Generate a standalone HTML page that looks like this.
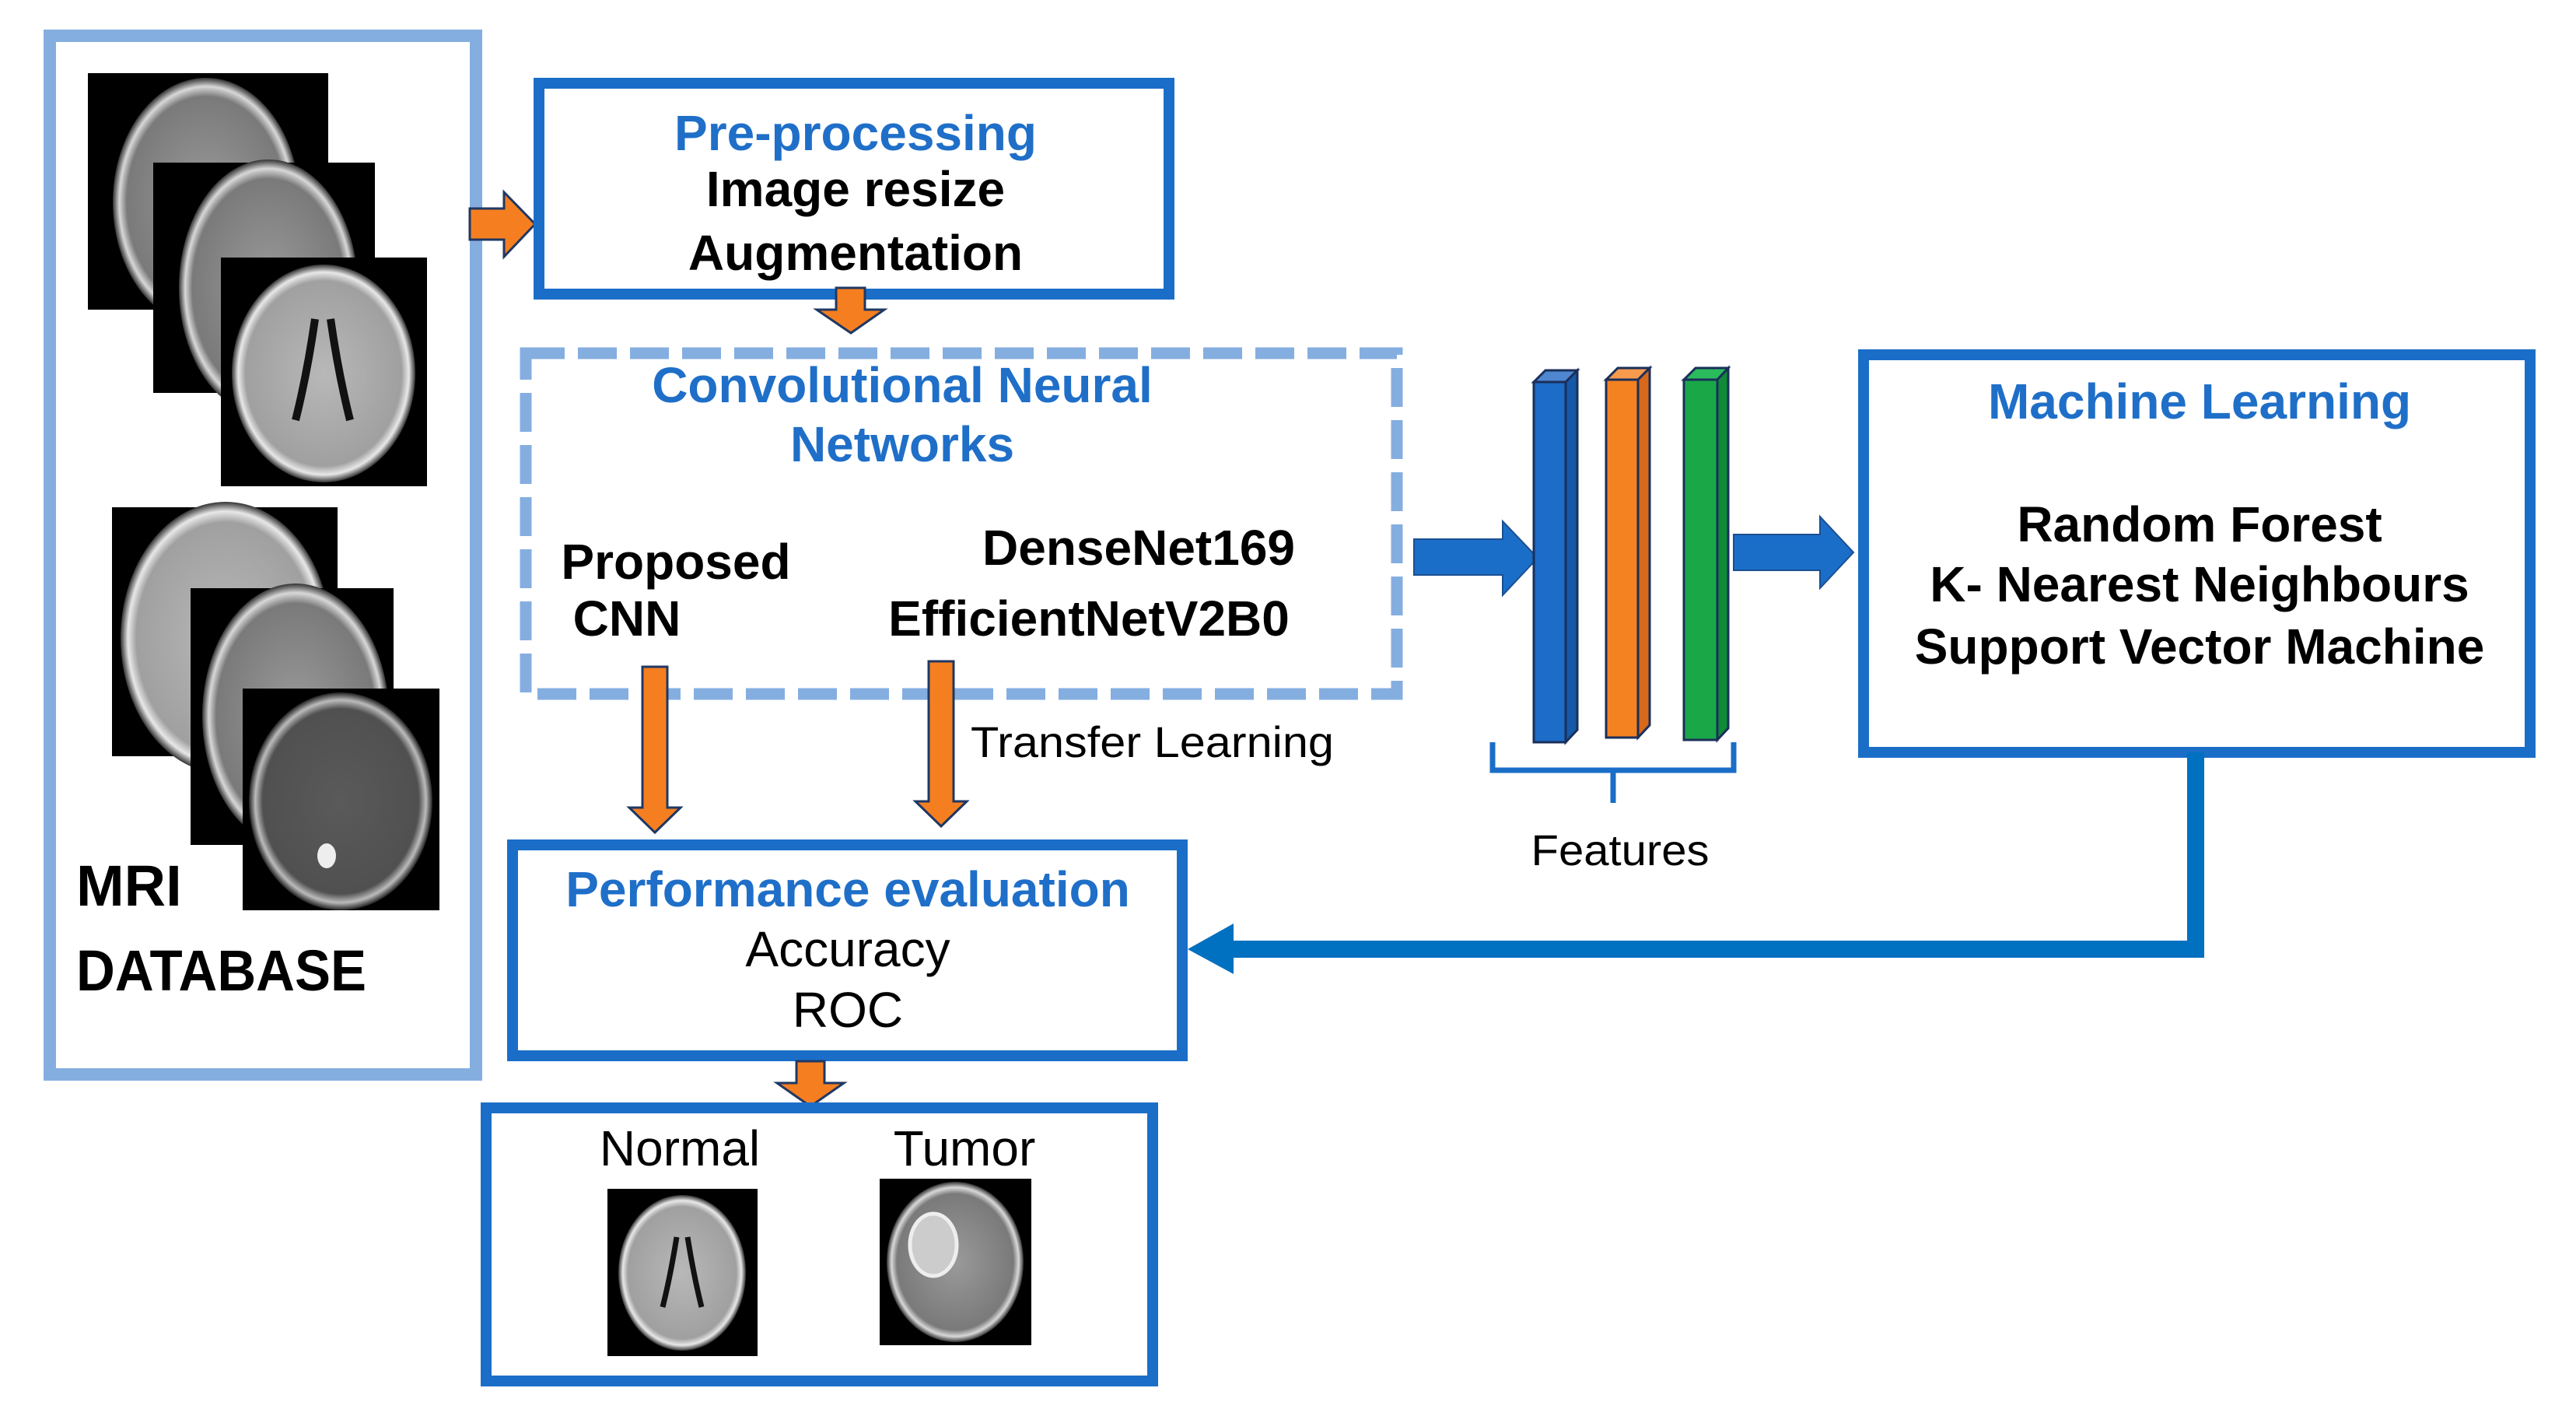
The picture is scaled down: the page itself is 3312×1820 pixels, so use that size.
<!DOCTYPE html>
<html><head><meta charset="utf-8"><style>
html,body{margin:0;padding:0;background:#fff;}
svg{display:block;}
</style></head><body>
<svg width="3312" height="1820" viewBox="0 0 3312 1820" xmlns="http://www.w3.org/2000/svg">
<defs>
<radialGradient id="g1" cx="50%" cy="50%" r="50%"><stop offset="0" stop-color="#9a9a9a"/><stop offset="0.85" stop-color="#7a7a7a"/><stop offset="0.93" stop-color="#d8d8d8"/><stop offset="1" stop-color="#333"/></radialGradient>
<radialGradient id="g2" cx="50%" cy="50%" r="50%"><stop offset="0" stop-color="#b8b8b8"/><stop offset="0.85" stop-color="#a0a0a0"/><stop offset="0.93" stop-color="#e8e8e8"/><stop offset="1" stop-color="#333"/></radialGradient>
<radialGradient id="g3" cx="50%" cy="50%" r="50%"><stop offset="0" stop-color="#5a5a5a"/><stop offset="0.85" stop-color="#505050"/><stop offset="0.93" stop-color="#bbb"/><stop offset="1" stop-color="#222"/></radialGradient>
</defs>

<!-- MRI database box -->
<rect x="64" y="46" width="548" height="1335" fill="none" stroke="#85aee0" stroke-width="16"/>
<!-- stack 1 -->
<rect x="113" y="94" width="309" height="304" fill="#000"/>
<ellipse cx="265" cy="260" rx="120" ry="160" fill="url(#g1)"/>
<rect x="197" y="209" width="285" height="296" fill="#000"/>
<ellipse cx="345" cy="370" rx="115" ry="165" fill="url(#g1)"/>
<rect x="284" y="331" width="265" height="294" fill="#000"/>
<ellipse cx="416" cy="480" rx="118" ry="140" fill="url(#g2)"/>
<path d="M405 410 Q395 480 380 540 M425 410 Q435 480 450 540" stroke="#111" stroke-width="10" fill="none"/>
<!-- stack 2 -->
<rect x="144" y="652" width="290" height="320" fill="#000"/>
<ellipse cx="290" cy="820" rx="135" ry="175" fill="url(#g2)"/>
<rect x="245" y="756" width="261" height="330" fill="#000"/>
<ellipse cx="380" cy="920" rx="120" ry="170" fill="url(#g1)"/>
<rect x="312" y="885" width="253" height="285" fill="#000"/>
<ellipse cx="438" cy="1030" rx="118" ry="140" fill="url(#g3)"/>
<ellipse cx="420" cy="1100" rx="12" ry="16" fill="#eee"/>
<text x="98" y="1164" font-family="Liberation Sans, sans-serif" font-weight="bold" font-size="74" fill="#000">MRI</text>
<text x="98" y="1273" font-family="Liberation Sans, sans-serif" font-weight="bold" font-size="74" fill="#000" textLength="373" lengthAdjust="spacingAndGlyphs">DATABASE</text>

<!-- orange arrow to preprocessing -->
<path d="M604 268 H648 V247 L688 288 L648 330 V308 H604 Z" fill="#f57f20" stroke="#1f3864" stroke-width="3"/>

<!-- Pre-processing box -->
<rect x="693" y="107" width="810" height="271" fill="none" stroke="#1b6ec8" stroke-width="14"/>
<g font-family="Liberation Sans, sans-serif" font-weight="bold" font-size="64" text-anchor="middle">
<text x="1100" y="193" fill="#1f6fc8">Pre-processing</text>
<text x="1100" y="265" fill="#000">Image resize</text>
<text x="1100" y="347" fill="#000">Augmentation</text>
</g>
<!-- down arrow -->
<path d="M1075 370 H1112 V398 H1137 L1094 428 L1050 398 H1075 Z" fill="#f57f20" stroke="#1f3864" stroke-width="3"/>

<!-- CNN dashed box -->
<rect x="676" y="454" width="1120" height="438" fill="none" stroke="#85aee0" stroke-width="15" stroke-dasharray="50 17"/>
<g font-family="Liberation Sans, sans-serif" font-weight="bold" font-size="64" text-anchor="middle">
<text x="1160" y="517" fill="#1f6fc8">Convolutional Neural</text>
<text x="1160" y="593" fill="#1f6fc8">Networks</text>
<text x="869" y="744" fill="#000">Proposed</text>
<text x="806" y="817" fill="#000">CNN</text>
<text x="1464" y="726" fill="#000">DenseNet169</text>
<text x="1400" y="817" fill="#000">EfficientNetV2B0</text>
</g>
<!-- down arrows -->
<path d="M826 857 H858 V1038 H875 L842 1070 L809 1038 H826 Z" fill="#f57f20" stroke="#1f3864" stroke-width="3"/>
<path d="M1194 850 H1226 V1030 H1243 L1210 1062 L1177 1030 H1194 Z" fill="#f57f20" stroke="#1f3864" stroke-width="3"/>
<text x="1248" y="973" font-family="Liberation Sans, sans-serif" font-size="56" fill="#000" textLength="467" lengthAdjust="spacingAndGlyphs">Transfer Learning</text>

<!-- blue arrow to features -->
<path d="M1818 693 H1932 V670 L1977 717 L1932 765 V739 H1818 Z" fill="#1b6ec8" stroke="#1a4f91" stroke-width="2"/>
<!-- feature bars -->
<g stroke="#1a2f5a" stroke-width="3">
<path d="M1972 491 L1987 476 H2028 L2013 491 Z" fill="#4f86d0"/>
<path d="M2013 491 L2028 476 V938 L2013 954 Z" fill="#1758a8"/>
<rect x="1972" y="491" width="41" height="463" fill="#1c6cc8"/>
<path d="M2065 488 L2080 473 H2121 L2106 488 Z" fill="#f79a4e"/>
<path d="M2106 488 L2121 473 V932 L2106 948 Z" fill="#d8681a"/>
<rect x="2065" y="488" width="41" height="460" fill="#f58220"/>
<path d="M2165 488 L2180 473 H2222 L2208 488 Z" fill="#2bbb5c"/>
<path d="M2208 488 L2222 473 V936 L2208 951 Z" fill="#0f8a36"/>
<rect x="2165" y="488" width="43" height="463" fill="#1aa748"/>
</g>
<!-- brace -->
<path d="M1919 954 V990 H2229 V954 M2074 990 V1032" fill="none" stroke="#1b6ec8" stroke-width="7"/>
<text x="2083" y="1112" font-family="Liberation Sans, sans-serif" font-size="56" fill="#000" text-anchor="middle" textLength="229" lengthAdjust="spacingAndGlyphs">Features</text>
<!-- blue arrow to ML -->
<path d="M2229 687 H2340 V664 L2383 710 L2340 756 V733 H2229 Z" fill="#1b6ec8" stroke="#1a4f91" stroke-width="2"/>

<!-- Machine Learning box -->
<rect x="2396" y="456" width="857" height="511" fill="none" stroke="#1b6ec8" stroke-width="14"/>
<g font-family="Liberation Sans, sans-serif" font-weight="bold" font-size="64" text-anchor="middle">
<text x="2828" y="538" fill="#1f6fc8">Machine Learning</text>
<text x="2828" y="696" fill="#000">Random Forest</text>
<text x="2828" y="773" fill="#000">K- Nearest Neighbours</text>
<text x="2828" y="853" fill="#000">Support Vector Machine</text>
</g>
<!-- feedback connector -->
<path d="M2823 967 V1220 H1586" fill="none" stroke="#0070c0" stroke-width="22"/>
<path d="M1586 1187 L1527 1220 L1586 1252 Z" fill="#0070c0"/>

<!-- Performance evaluation box -->
<rect x="659" y="1086" width="861" height="271" fill="none" stroke="#1b6ec8" stroke-width="14"/>
<g font-family="Liberation Sans, sans-serif" font-size="64" text-anchor="middle">
<text x="1090" y="1165" fill="#1f6fc8" font-weight="bold">Performance evaluation</text>
<text x="1090" y="1242" fill="#000">Accuracy</text>
<text x="1090" y="1320" fill="#000">ROC</text>
</g>
<!-- down arrow -->
<path d="M1024 1364 H1060 V1392 H1085 L1042 1422 L999 1392 H1024 Z" fill="#f57f20" stroke="#1f3864" stroke-width="3"/>

<!-- Result box -->
<rect x="625" y="1424" width="857" height="351" fill="none" stroke="#1b6ec8" stroke-width="14"/>
<g font-family="Liberation Sans, sans-serif" font-size="64" text-anchor="middle" fill="#000">
<text x="874" y="1498">Normal</text>
<text x="1240" y="1498">Tumor</text>
</g>
<rect x="781" y="1528" width="193" height="215" fill="#000"/>
<ellipse cx="877" cy="1636" rx="82" ry="100" fill="url(#g2)"/>
<path d="M870 1590 Q862 1640 852 1680 M884 1590 Q892 1640 902 1680" stroke="#111" stroke-width="7" fill="none"/>
<rect x="1131" y="1515" width="195" height="214" fill="#000"/>
<ellipse cx="1228" cy="1622" rx="88" ry="103" fill="url(#g1)"/>
<ellipse cx="1200" cy="1600" rx="30" ry="40" fill="#ccc" stroke="#eee" stroke-width="5"/>
</svg>
</body></html>
